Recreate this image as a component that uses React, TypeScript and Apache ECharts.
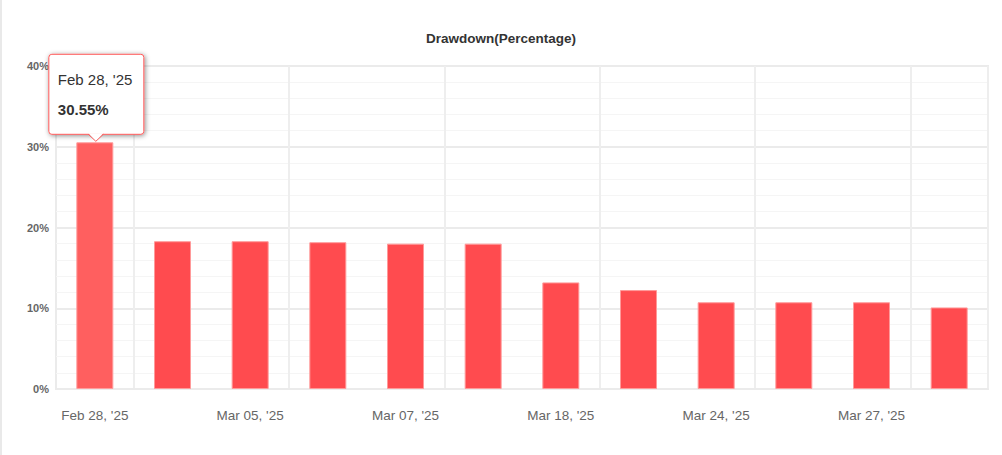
import React, { useEffect, useRef } from "react";
import * as echarts from "echarts";

const categories = [
  "Feb 28, '25", "Mar 03, '25", "Mar 05, '25", "Mar 06, '25",
  "Mar 07, '25", "Mar 10, '25", "Mar 18, '25", "Mar 20, '25",
  "Mar 24, '25", "Mar 25, '25", "Mar 27, '25", "Mar 28, '25",
];
const drawdown = [30.55, 18.3, 18.3, 18.18, 18.0, 18.0, 13.2, 12.25, 10.74, 10.74, 10.74, 10.1];
const yTicks = [0, 10, 20, 30, 40];
const highlightedIndex = 0;

const FONT = "'Liberation Sans', Arial, sans-serif";

export default function App() {
  const ref = useRef<HTMLDivElement>(null);
  useEffect(() => {
    if (!ref.current) return;
    const chart = echarts.init(ref.current, undefined, { renderer: "svg" });
    const barData = drawdown.map((v, i) =>
      i === highlightedIndex
        ? { value: v, itemStyle: { color: "#ff5f5f", borderColor: "#ff9d9d" } }
        : v
    );
    chart.setOption({
      animation: false,
      backgroundColor: "#ffffff",
      title: {
        text: "Drawdown(Percentage)",
        left: "center",
        top: 26,
        textStyle: { fontFamily: FONT, fontSize: 13.5, fontWeight: "bold", color: "#333333" },
      },
      graphic: [
        {
          type: "line",
          shape: { x1: 1, y1: 0, x2: 1, y2: 455 },
          style: { stroke: "#e2e2e2", lineWidth: 1.5 },
          silent: true,
        },
      ],
      grid: {
        left: 56,
        right: 14,
        top: 66,
        bottom: 66,
        show: true,
        borderColor: "#ebebeb",
        borderWidth: 2,
      },
      xAxis: {
        type: "category",
        data: categories,
        boundaryGap: true,
        axisLine: { show: true, lineStyle: { color: "#ebebeb", width: 2 } },
        axisTick: { show: false },
        axisLabel: {
          interval: 1,
          margin: 19,
          color: "#666666",
          fontFamily: FONT,
          fontSize: 13.5,
        },
        splitLine: {
          show: true,
          interval: (i: number) => i % 2 === 1,
          lineStyle: { color: "#eeeeee", width: 2 },
        },
      },
      yAxis: {
        type: "value",
        min: yTicks[0],
        max: yTicks[yTicks.length - 1],
        interval: 10,
        axisLine: { show: false },
        axisTick: { show: false },
        axisLabel: {
          formatter: "{value}%",
          margin: 7,
          color: "#666666",
          fontFamily: FONT,
          fontSize: 11,
          fontWeight: "bold",
        },
        splitLine: { show: true, lineStyle: { color: "#ebebeb", width: 2 } },
        minorTick: { show: false, splitNumber: 5 },
        minorSplitLine: { show: true, lineStyle: { color: "#f5f5f5", width: 1 } },
      },
      series: [
        {
          type: "bar",
          data: barData,
          barWidth: 37,
          itemStyle: { color: "#ff4b4f", borderColor: "#ff9a9a", borderWidth: 1 },
        },
        {
          type: "custom",
          clip: false,
          z: 10,
          silent: true,
          data: [[highlightedIndex, drawdown[highlightedIndex]]],
          renderItem: (params: any, api: any) => {
            const p = api.coord([api.value(0), api.value(1)]);
            const cx = p[0] + 1;
            const tip = p[1] - 1;
            const bottom = tip - 7;
            const w = 95;
            const h = 80;
            const left = cx - 47;
            const top = bottom - h;
            const idx = api.value(0);
            return {
              type: "group",
              children: [
                {
                  type: "rect",
                  shape: { x: left, y: top, width: w, height: h, r: 3 },
                  style: {
                    fill: "#ffffff",
                    stroke: "#ff5a5a",
                    lineWidth: 1,
                    shadowBlur: 5,
                    shadowOffsetX: 1,
                    shadowOffsetY: 1,
                    shadowColor: "rgba(0,0,0,0.45)",
                  },
                },
                {
                  type: "polygon",
                  shape: { points: [[cx - 7.5, bottom - 1], [cx, tip - 0.5], [cx + 7.5, bottom - 1]] },
                  style: { fill: "#ffffff" },
                },
                {
                  type: "polyline",
                  shape: { points: [[cx - 7.5, bottom], [cx, tip], [cx + 7.5, bottom]] },
                  style: { stroke: "#ff5a5a", lineWidth: 1, fill: "none" },
                },
                {
                  type: "text",
                  style: {
                    text: categories[idx],
                    x: left + 9,
                    y: top + 25,
                    fill: "#333333",
                    fontFamily: FONT,
                    fontSize: 15,
                    verticalAlign: "middle",
                    align: "left",
                  },
                },
                {
                  type: "text",
                  style: {
                    text: drawdown[idx].toFixed(2) + "%",
                    x: left + 9,
                    y: top + 55,
                    fill: "#333333",
                    fontFamily: FONT,
                    fontSize: 15,
                    fontWeight: "bold",
                    verticalAlign: "middle",
                    align: "left",
                  },
                },
              ],
            };
          },
        },
      ],
    });
    return () => chart.dispose();
  }, []);
  return (
    <div
      ref={ref}
      style={{ position: "absolute", left: 0, top: 0, width: 1002, height: 455 }}
    />
  );
}
